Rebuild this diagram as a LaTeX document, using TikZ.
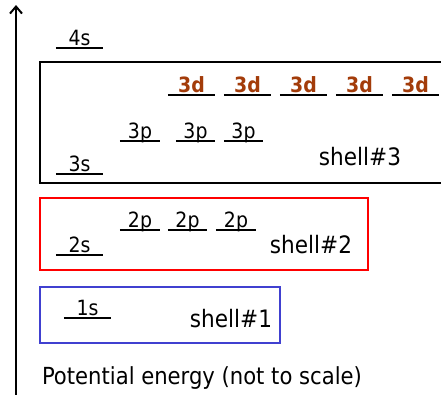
\documentclass[tikz,border=0pt]{standalone}
\usepackage{fontspec}
\setmainfont{DejaVu Sans Condensed}
\usetikzlibrary{arrows.meta}
\definecolor{dbrown}{RGB}{163,60,10}
\definecolor{sblue}{RGB}{64,64,208}
\tikzset{
  orb/.style={inner xsep=0pt, inner ysep=2pt, text depth=0pt, anchor=south, font=\fontsize{21}{23}\selectfont},
  dorb/.style={orb, inner ysep=2.5pt, text=dbrown, font=\fontsize{21}{23}\selectfont\bfseries},
  orbline/.style={line width=2pt},
  shelltxt/.style={inner sep=0pt, font=\fontsize{24}{26}\selectfont},
  boxline/.style={line width=1.5pt}
}
\newcommand{\orbital}[5]{% style, name, position, width, text
  \node[#1, minimum width=#4] (#2) at #3 {#5};
  \draw[orbline] (#2.south west) -- (#2.south east);
}
\begin{document}
\begin{tikzpicture}[x=1pt,y=-1pt]
\useasboundingbox (0,0) rectangle (441,394);
\clip (0,0) rectangle (441,394);
% energy axis
\coordinate (axbot) at (16,396);
\coordinate (axtop) at (16,5);
\draw[line width=2pt, -{Straight Barb[length=7pt,width=12pt]}] (axbot) -- (axtop);
% shell boxes
\draw[boxline, black] (40,62) rectangle (450,183);
\draw[boxline, red] (40,198) rectangle (368,270);
\draw[boxline, sblue] (40,287) rectangle (280,343);
% 4s
\orbital{orb}{o4s}{(79.5,48)}{47pt}{4s}
% 3d
\orbital{dorb}{d1}{(191.5,95)}{47pt}{3d}
\orbital{dorb}{d2}{(247.5,95)}{47pt}{3d}
\orbital{dorb}{d3}{(303.5,95)}{47pt}{3d}
\orbital{dorb}{d4}{(359.5,95)}{47pt}{3d}
\orbital{dorb}{d5}{(415.5,95)}{47pt}{3d}
% 3p
\orbital{orb}{p31}{(140,141)}{40pt}{3p}
\orbital{orb}{p32}{(195.5,141)}{39pt}{3p}
\orbital{orb}{p33}{(243.5,141)}{39pt}{3p}
% 3s
\orbital{orb}{o3s}{(79.5,174)}{47pt}{3s}
\node[shelltxt] (sh3) at (360,157) {shell\#3};
% 2p
\orbital{orb}{p21}{(140,230)}{40pt}{2p}
\orbital{orb}{p22}{(187.5,230)}{39pt}{2p}
\orbital{orb}{p23}{(236,230)}{40pt}{2p}
% 2s
\orbital{orb}{o2s}{(79.5,255)}{47pt}{2s}
\node[shelltxt] (sh2) at (311,245) {shell\#2};
% 1s
\orbital{orb}{o1s}{(87.5,318)}{47pt}{1s}
\node[shelltxt] (sh1) at (231,319) {shell\#1};
% caption
\node[inner sep=0pt, font=\fontsize{23.5}{25}\selectfont] (cap) at (202,378) {Potential energy (not to scale)};
\end{tikzpicture}
\end{document}
